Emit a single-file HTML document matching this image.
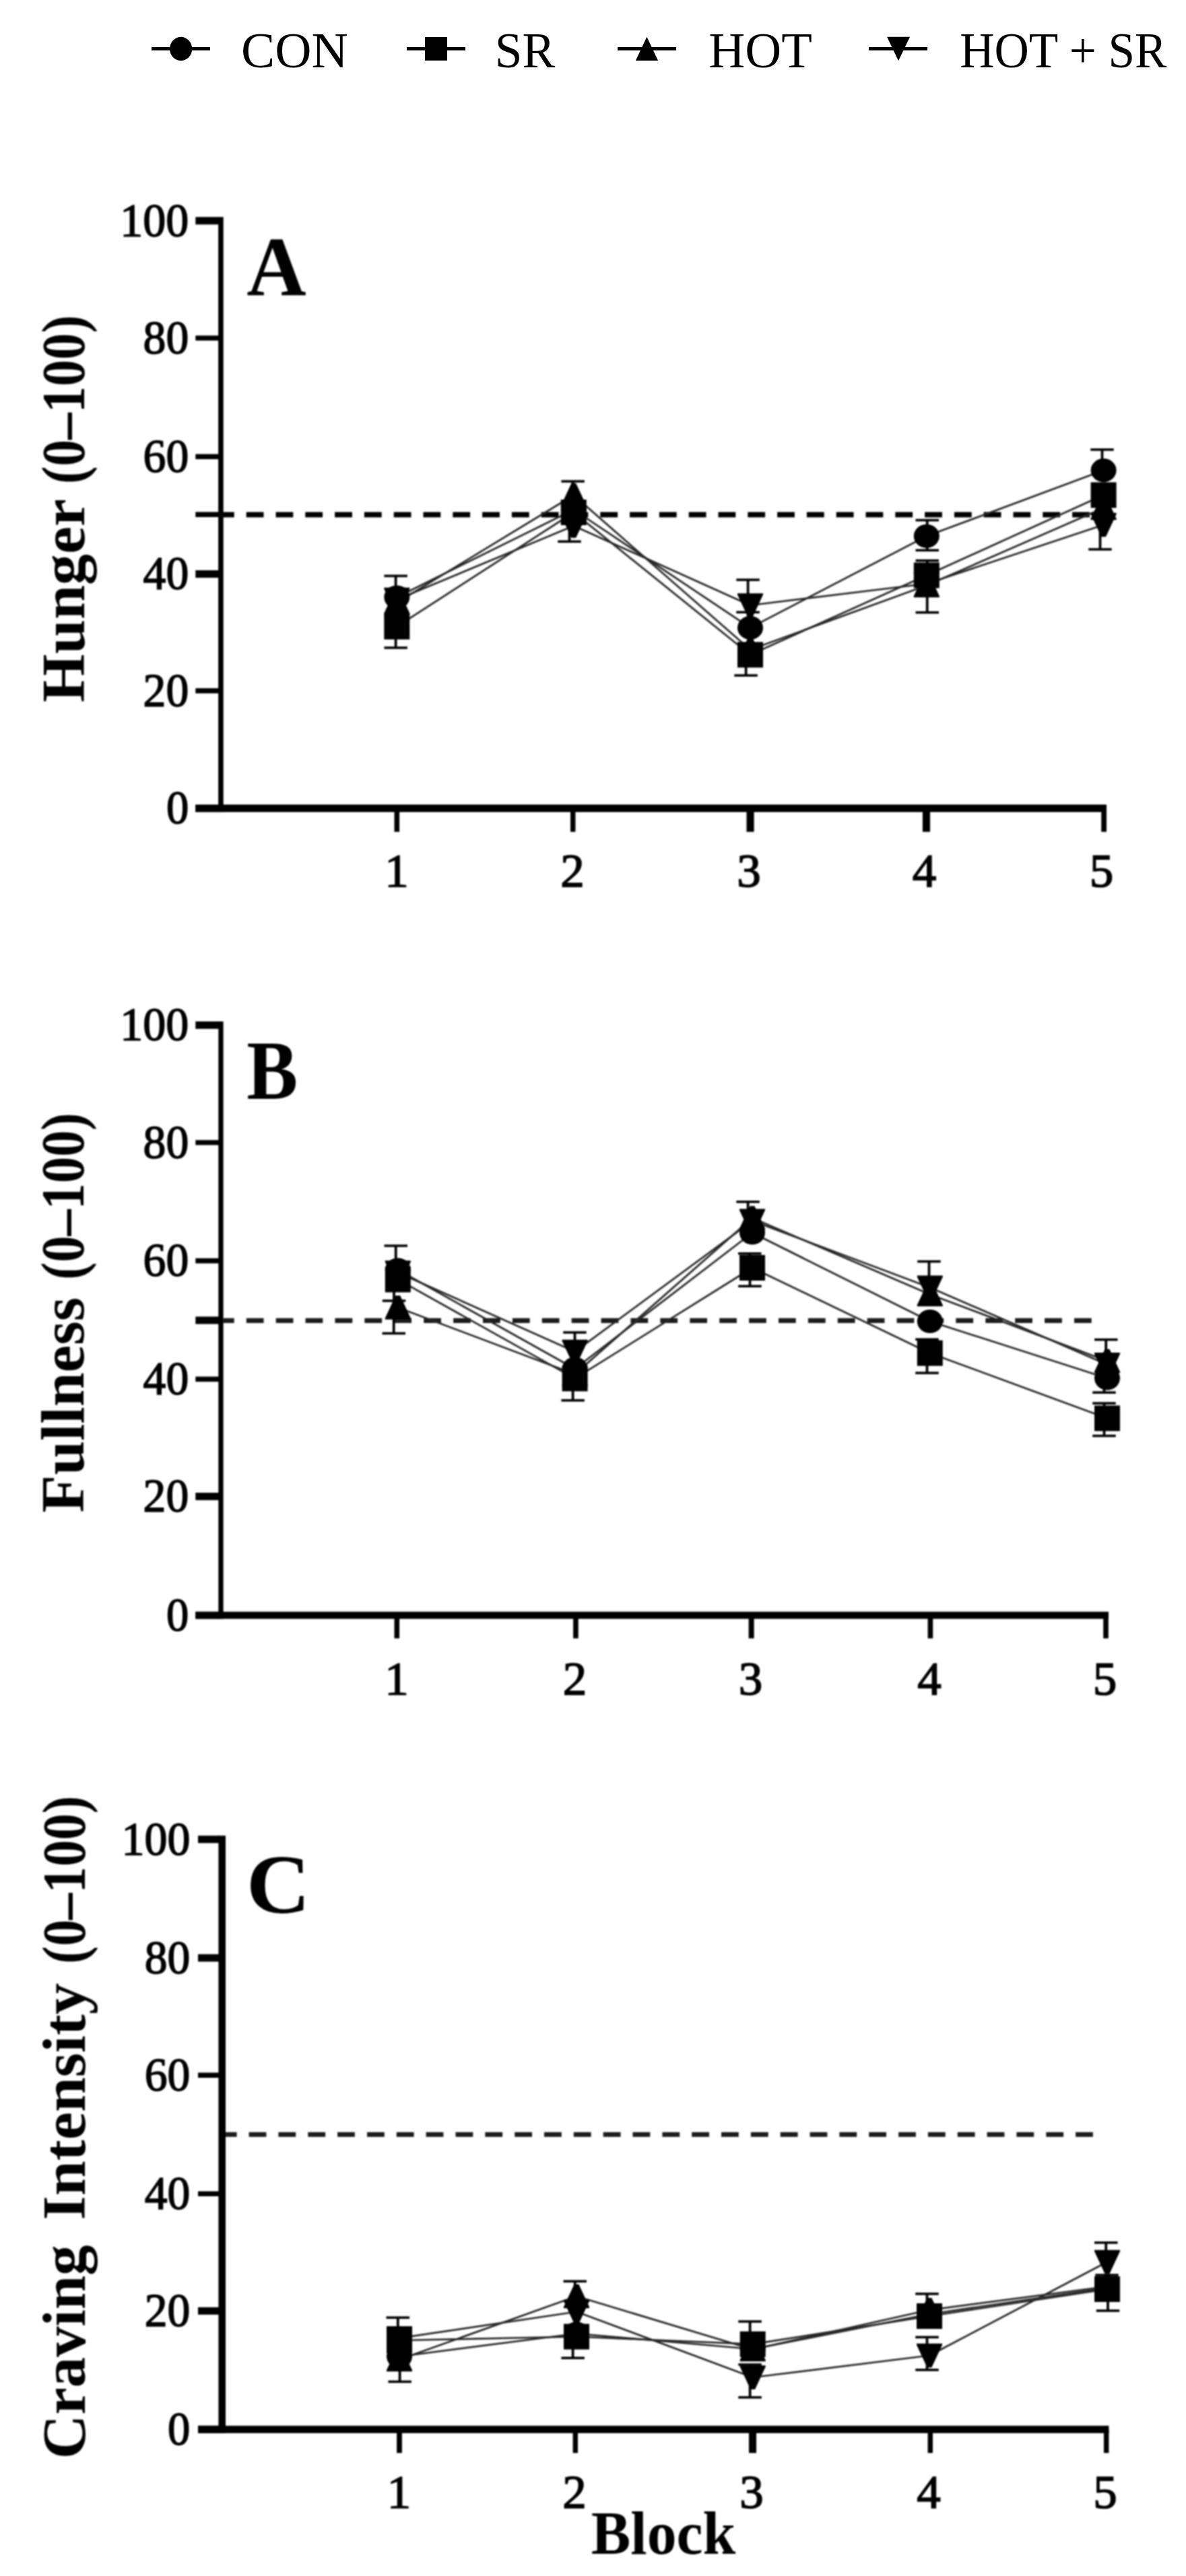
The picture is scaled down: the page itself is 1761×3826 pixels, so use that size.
<!DOCTYPE html>
<html lang="en"><head><meta charset="utf-8"><title>Figure</title>
<style>html,body{margin:0;padding:0;background:#fff}svg{display:block}text{font-family:"Liberation Serif", serif;fill:#000}</style>
</head><body>
<svg width="1761" height="3826" viewBox="0 0 1761 3826">
<defs><filter id="soft" x="0" y="0" width="1761" height="3826" filterUnits="userSpaceOnUse"><feGaussianBlur stdDeviation="0.8"/></filter></defs>
<rect width="1761" height="3826" fill="#fff"/>
<rect x="225.0" y="70.0" width="87.0" height="4.8" fill="#000"/>
<ellipse cx="268.6" cy="72.5" rx="16.6" ry="17.7"/>
<text x="358.0" y="100.4" font-size="73" text-anchor="start" textLength="158.7" lengthAdjust="spacingAndGlyphs">CON</text>
<rect x="604.0" y="70.0" width="87.0" height="4.8" fill="#000"/>
<rect x="631.0" y="55.0" width="33.0" height="34.9" fill="#000"/>
<text x="734.7" y="100.4" font-size="73" text-anchor="start" textLength="89.5" lengthAdjust="spacingAndGlyphs">SR</text>
<rect x="917.0" y="70.0" width="87.0" height="4.8" fill="#000"/>
<polygon points="960.4,54.8 977.1,89.9 943.8,89.9"/>
<text x="1052.3" y="100.4" font-size="73" text-anchor="start" textLength="153.5" lengthAdjust="spacingAndGlyphs">HOT</text>
<rect x="1290.0" y="70.0" width="87.0" height="4.8" fill="#000"/>
<polygon points="1317,54.8 1351.1,54.8 1334,90.2"/>
<text x="1425.2" y="100.4" font-size="73" text-anchor="start" textLength="307.2" lengthAdjust="spacingAndGlyphs">HOT + SR</text>
<g filter="url(#soft)">
<rect x="324.1" y="322.3" width="7.6" height="883.8" fill="#000"/>
<rect x="290.3" y="322.3" width="34.8" height="11.1" fill="#000"/>
<text x="280.2" y="350.7" font-size="69" text-anchor="end" textLength="101.9" lengthAdjust="spacingAndGlyphs" stroke="#000" stroke-width="1.6">100</text>
<rect x="290.3" y="498.4" width="34.8" height="7.4" fill="#000"/>
<text x="280.2" y="524.9" font-size="69" text-anchor="end" textLength="67.6" lengthAdjust="spacingAndGlyphs" stroke="#000" stroke-width="1.6">80</text>
<rect x="290.3" y="674.4" width="34.8" height="7.6" fill="#000"/>
<text x="280.2" y="701.0" font-size="69" text-anchor="end" textLength="67.6" lengthAdjust="spacingAndGlyphs" stroke="#000" stroke-width="1.6">60</text>
<rect x="290.3" y="760.4" width="34.8" height="7.6" fill="#000"/>
<rect x="290.3" y="847.0" width="34.8" height="11.1" fill="#000"/>
<text x="280.2" y="875.3" font-size="69" text-anchor="end" textLength="67.6" lengthAdjust="spacingAndGlyphs" stroke="#000" stroke-width="1.6">40</text>
<rect x="290.3" y="1022.2" width="34.8" height="7.6" fill="#000"/>
<text x="280.2" y="1048.8" font-size="69" text-anchor="end" textLength="67.6" lengthAdjust="spacingAndGlyphs" stroke="#000" stroke-width="1.6">20</text>
<rect x="290.3" y="1195.0" width="34.8" height="11.1" fill="#000"/>
<text x="280.2" y="1223.3" font-size="69" text-anchor="end" textLength="33.3" lengthAdjust="spacingAndGlyphs" stroke="#000" stroke-width="1.6">0</text>
<rect x="290.3" y="1195.0" width="1352.7" height="11.1" fill="#000"/>
<rect x="585.5" y="1200.6" width="7.6" height="34.9" fill="#000"/>
<text x="589.0" y="1317.0" font-size="69" text-anchor="middle" textLength="35.5" lengthAdjust="spacingAndGlyphs" stroke="#000" stroke-width="1.6">1</text>
<rect x="847.0" y="1200.6" width="7.4" height="34.9" fill="#000"/>
<text x="850.0" y="1317.0" font-size="69" text-anchor="middle" textLength="35.5" lengthAdjust="spacingAndGlyphs" stroke="#000" stroke-width="1.6">2</text>
<rect x="1108.5" y="1200.6" width="11.1" height="34.9" fill="#000"/>
<text x="1112.0" y="1317.0" font-size="69" text-anchor="middle" textLength="35.5" lengthAdjust="spacingAndGlyphs" stroke="#000" stroke-width="1.6">3</text>
<rect x="1369.9" y="1200.6" width="11.1" height="34.9" fill="#000"/>
<text x="1372.5" y="1317.0" font-size="69" text-anchor="middle" textLength="35.5" lengthAdjust="spacingAndGlyphs" stroke="#000" stroke-width="1.6">4</text>
<rect x="1635.2" y="1200.6" width="7.8" height="34.9" fill="#000"/>
<text x="1635.6" y="1317.0" font-size="69" text-anchor="middle" textLength="35.5" lengthAdjust="spacingAndGlyphs" stroke="#000" stroke-width="1.6">5</text>
<rect x="331.2" y="760.5" width="16.5" height="7.9" fill="#000"/>
<rect x="365.7" y="760.5" width="25.8" height="7.9" fill="#000"/>
<rect x="409.5" y="760.5" width="25.8" height="7.9" fill="#000"/>
<rect x="453.3" y="760.5" width="25.8" height="7.9" fill="#000"/>
<rect x="497.1" y="760.5" width="25.8" height="7.9" fill="#000"/>
<rect x="540.9" y="760.5" width="25.8" height="7.9" fill="#000"/>
<rect x="584.7" y="760.5" width="25.8" height="7.9" fill="#000"/>
<rect x="628.5" y="760.5" width="25.8" height="7.9" fill="#000"/>
<rect x="672.3" y="760.5" width="25.8" height="7.9" fill="#000"/>
<rect x="716.1" y="760.5" width="25.8" height="7.9" fill="#000"/>
<rect x="759.9" y="760.5" width="25.8" height="7.9" fill="#000"/>
<rect x="803.7" y="760.5" width="25.8" height="7.9" fill="#000"/>
<rect x="847.5" y="760.5" width="25.8" height="7.9" fill="#000"/>
<rect x="891.3" y="760.5" width="25.8" height="7.9" fill="#000"/>
<rect x="935.1" y="760.5" width="25.8" height="7.9" fill="#000"/>
<rect x="978.9" y="760.5" width="25.8" height="7.9" fill="#000"/>
<rect x="1022.7" y="760.5" width="25.8" height="7.9" fill="#000"/>
<rect x="1066.5" y="760.5" width="25.8" height="7.9" fill="#000"/>
<rect x="1110.3" y="760.5" width="25.8" height="7.9" fill="#000"/>
<rect x="1154.1" y="760.5" width="25.8" height="7.9" fill="#000"/>
<rect x="1197.9" y="760.5" width="25.8" height="7.9" fill="#000"/>
<rect x="1241.7" y="760.5" width="25.8" height="7.9" fill="#000"/>
<rect x="1285.5" y="760.5" width="25.8" height="7.9" fill="#000"/>
<rect x="1329.3" y="760.5" width="25.8" height="7.9" fill="#000"/>
<rect x="1373.1" y="760.5" width="25.8" height="7.9" fill="#000"/>
<rect x="1416.9" y="760.5" width="25.8" height="7.9" fill="#000"/>
<rect x="1460.7" y="760.5" width="25.8" height="7.9" fill="#000"/>
<rect x="1504.5" y="760.5" width="25.8" height="7.9" fill="#000"/>
<rect x="1548.3" y="760.5" width="25.8" height="7.9" fill="#000"/>
<rect x="1592.1" y="760.5" width="25.8" height="7.9" fill="#000"/>
<text transform="translate(125.2,1042.9) rotate(-90)" font-size="90" font-weight="bold" textLength="301.8" lengthAdjust="spacingAndGlyphs">Hunger</text>
<text transform="translate(125.2,718.8) rotate(-90)" font-size="90" font-weight="bold" textLength="250.6" lengthAdjust="spacingAndGlyphs">(0–100)</text>
<text x="366.2" y="437.5" font-size="124" font-weight="bold" text-anchor="start" textLength="88.5" lengthAdjust="spacingAndGlyphs">A</text>
<polyline points="589.3,887.0 851.8,757.0 1114.0,932.4 1375.8,796.3 1638.6,698.6" stroke="#262626" stroke-width="2.7" fill="none" stroke-linejoin="round"/>
<polyline points="589.3,930.7 851.8,761.0 1114.0,972.5 1375.8,854.5 1638.6,735.3" stroke="#262626" stroke-width="2.7" fill="none" stroke-linejoin="round"/>
<polyline points="589.3,895.0 851.8,735.5 1114.0,965.0 1375.8,869.5 1638.6,754.5" stroke="#262626" stroke-width="2.7" fill="none" stroke-linejoin="round"/>
<polyline points="589.3,890.5 851.8,781.0 1114.0,899.0 1375.8,867.0 1638.6,779.5" stroke="#262626" stroke-width="2.7" fill="none" stroke-linejoin="round"/>
<rect x="585.7" y="855.4" width="3.8" height="31.6" fill="#000"/>
<rect x="570.4" y="853.6" width="34.5" height="3.6" fill="#000"/>
<rect x="585.7" y="930.7" width="3.8" height="31.4" fill="#000"/>
<rect x="570.4" y="960.3" width="34.5" height="3.6" fill="#000"/>
<rect x="848.7" y="714.9" width="3.8" height="20.6" fill="#000"/>
<rect x="833.4" y="713.1" width="34.5" height="3.6" fill="#000"/>
<rect x="843.6" y="781.0" width="3.8" height="23.3" fill="#000"/>
<rect x="828.2" y="802.5" width="34.5" height="3.6" fill="#000"/>
<rect x="1108.7" y="861.2" width="3.8" height="37.8" fill="#000"/>
<rect x="1093.3" y="859.4" width="34.5" height="3.6" fill="#000"/>
<rect x="1108.7" y="909.3" width="3.8" height="23.1" fill="#000"/>
<rect x="1093.3" y="907.5" width="34.5" height="3.6" fill="#000"/>
<rect x="1105.7" y="972.5" width="3.8" height="30.7" fill="#000"/>
<rect x="1090.3" y="1001.4" width="34.5" height="3.6" fill="#000"/>
<rect x="1374.8" y="772.6" width="3.8" height="23.7" fill="#000"/>
<rect x="1359.5" y="770.8" width="34.5" height="3.6" fill="#000"/>
<rect x="1374.8" y="796.3" width="3.8" height="21.0" fill="#000"/>
<rect x="1359.5" y="815.5" width="34.5" height="3.6" fill="#000"/>
<rect x="1374.8" y="832.6" width="3.8" height="21.9" fill="#000"/>
<rect x="1359.5" y="830.8" width="34.5" height="3.6" fill="#000"/>
<rect x="1374.8" y="869.5" width="3.8" height="40.2" fill="#000"/>
<rect x="1359.5" y="907.9" width="34.5" height="3.6" fill="#000"/>
<rect x="1634.6" y="667.8" width="3.8" height="30.8" fill="#000"/>
<rect x="1619.2" y="666.0" width="34.5" height="3.6" fill="#000"/>
<rect x="1631.6" y="779.5" width="3.8" height="36.4" fill="#000"/>
<rect x="1616.2" y="814.1" width="34.5" height="3.6" fill="#000"/>
<ellipse cx="589.3" cy="887.0" rx="19.0" ry="17.6"/>
<ellipse cx="851.8" cy="757.0" rx="19.0" ry="17.6"/>
<ellipse cx="1114.0" cy="932.4" rx="19.0" ry="17.6"/>
<ellipse cx="1375.8" cy="796.3" rx="19.0" ry="17.6"/>
<ellipse cx="1638.6" cy="698.6" rx="19.0" ry="17.6"/>
<rect x="570.3" y="911.7" width="38.0" height="38.0" fill="#000"/>
<rect x="832.8" y="742.0" width="38.0" height="38.0" fill="#000"/>
<rect x="1095.0" y="953.5" width="38.0" height="38.0" fill="#000"/>
<rect x="1356.8" y="835.5" width="38.0" height="38.0" fill="#000"/>
<rect x="1619.6" y="716.3" width="38.0" height="38.0" fill="#000"/>
<polygon points="585.9,877.2 592.7,877.2 608.3,910.8 608.3,912.8 570.3,912.8 570.3,910.8"/>
<polygon points="848.4,717.8 855.2,717.8 870.8,751.2 870.8,753.2 832.8,753.2 832.8,751.2"/>
<polygon points="1110.6,947.2 1117.4,947.2 1133.0,980.8 1133.0,982.8 1095.0,982.8 1095.0,980.8"/>
<polygon points="1372.4,851.8 1379.2,851.8 1394.8,885.2 1394.8,887.2 1356.8,887.2 1356.8,885.2"/>
<polygon points="1635.2,736.8 1642.0,736.8 1657.6,770.2 1657.6,772.2 1619.6,772.2 1619.6,770.2"/>
<polygon points="570.3,872.8 608.3,872.8 608.3,874.8 592.7,908.2 585.9,908.2 570.3,874.8"/>
<polygon points="832.8,763.2 870.8,763.2 870.8,765.2 855.2,798.8 848.4,798.8 832.8,765.2"/>
<polygon points="1095.0,881.2 1133.0,881.2 1133.0,883.2 1117.4,916.8 1110.6,916.8 1095.0,883.2"/>
<polygon points="1356.8,849.2 1394.8,849.2 1394.8,851.2 1379.2,884.8 1372.4,884.8 1356.8,851.2"/>
<polygon points="1619.6,761.8 1657.6,761.8 1657.6,763.8 1642.0,797.2 1635.2,797.2 1619.6,763.8"/>
<rect x="324.3" y="1517.1" width="7.3" height="887.3" fill="#000"/>
<rect x="290.3" y="1517.1" width="35.0" height="11.0" fill="#000"/>
<text x="280.2" y="1545.4" font-size="69" text-anchor="end" textLength="101.9" lengthAdjust="spacingAndGlyphs" stroke="#000" stroke-width="1.6">100</text>
<rect x="290.3" y="1693.3" width="35.0" height="7.4" fill="#000"/>
<text x="280.2" y="1719.8" font-size="69" text-anchor="end" textLength="67.6" lengthAdjust="spacingAndGlyphs" stroke="#000" stroke-width="1.6">80</text>
<rect x="290.3" y="1868.8" width="35.0" height="7.6" fill="#000"/>
<text x="280.2" y="1895.4" font-size="69" text-anchor="end" textLength="67.6" lengthAdjust="spacingAndGlyphs" stroke="#000" stroke-width="1.6">60</text>
<rect x="290.3" y="1955.5" width="35.0" height="11.0" fill="#000"/>
<rect x="290.3" y="2044.6" width="35.0" height="7.6" fill="#000"/>
<text x="280.2" y="2071.2" font-size="69" text-anchor="end" textLength="67.6" lengthAdjust="spacingAndGlyphs" stroke="#000" stroke-width="1.6">40</text>
<rect x="290.3" y="2217.1" width="35.0" height="11.0" fill="#000"/>
<text x="280.2" y="2245.4" font-size="69" text-anchor="end" textLength="67.6" lengthAdjust="spacingAndGlyphs" stroke="#000" stroke-width="1.6">20</text>
<rect x="290.3" y="2393.8" width="35.0" height="10.6" fill="#000"/>
<text x="280.2" y="2421.9" font-size="69" text-anchor="end" textLength="33.3" lengthAdjust="spacingAndGlyphs" stroke="#000" stroke-width="1.6">0</text>
<rect x="290.3" y="2393.8" width="1355.7" height="10.6" fill="#000"/>
<rect x="585.5" y="2399.1" width="7.6" height="34.3" fill="#000"/>
<text x="589.0" y="2516.5" font-size="69" text-anchor="middle" textLength="35.5" lengthAdjust="spacingAndGlyphs" stroke="#000" stroke-width="1.6">1</text>
<rect x="851.1" y="2399.1" width="7.6" height="34.3" fill="#000"/>
<text x="853.5" y="2516.5" font-size="69" text-anchor="middle" textLength="35.5" lengthAdjust="spacingAndGlyphs" stroke="#000" stroke-width="1.6">2</text>
<rect x="1111.6" y="2399.1" width="8.0" height="34.3" fill="#000"/>
<text x="1114.5" y="2516.5" font-size="69" text-anchor="middle" textLength="35.5" lengthAdjust="spacingAndGlyphs" stroke="#000" stroke-width="1.6">3</text>
<rect x="1377.6" y="2399.1" width="7.6" height="34.3" fill="#000"/>
<text x="1380.0" y="2516.5" font-size="69" text-anchor="middle" textLength="35.5" lengthAdjust="spacingAndGlyphs" stroke="#000" stroke-width="1.6">4</text>
<rect x="1638.2" y="2399.1" width="7.6" height="34.3" fill="#000"/>
<text x="1640.5" y="2516.5" font-size="69" text-anchor="middle" textLength="35.5" lengthAdjust="spacingAndGlyphs" stroke="#000" stroke-width="1.6">5</text>
<rect x="331.1" y="1957.8" width="16.5" height="7.2" fill="#1a1a1a"/>
<rect x="365.8" y="1957.8" width="25.7" height="7.2" fill="#1a1a1a"/>
<rect x="409.7" y="1957.8" width="25.7" height="7.2" fill="#1a1a1a"/>
<rect x="453.6" y="1957.8" width="25.7" height="7.2" fill="#1a1a1a"/>
<rect x="497.5" y="1957.8" width="25.7" height="7.2" fill="#1a1a1a"/>
<rect x="541.4" y="1957.8" width="25.7" height="7.2" fill="#1a1a1a"/>
<rect x="585.3" y="1957.8" width="25.7" height="7.2" fill="#1a1a1a"/>
<rect x="629.2" y="1957.8" width="25.7" height="7.2" fill="#1a1a1a"/>
<rect x="673.1" y="1957.8" width="25.7" height="7.2" fill="#1a1a1a"/>
<rect x="717.0" y="1957.8" width="25.7" height="7.2" fill="#1a1a1a"/>
<rect x="760.9" y="1957.8" width="25.7" height="7.2" fill="#1a1a1a"/>
<rect x="804.8" y="1957.8" width="25.7" height="7.2" fill="#1a1a1a"/>
<rect x="848.7" y="1957.8" width="25.7" height="7.2" fill="#1a1a1a"/>
<rect x="892.6" y="1957.8" width="25.7" height="7.2" fill="#1a1a1a"/>
<rect x="936.5" y="1957.8" width="25.7" height="7.2" fill="#1a1a1a"/>
<rect x="980.4" y="1957.8" width="25.7" height="7.2" fill="#1a1a1a"/>
<rect x="1024.3" y="1957.8" width="25.7" height="7.2" fill="#1a1a1a"/>
<rect x="1068.2" y="1957.8" width="25.7" height="7.2" fill="#1a1a1a"/>
<rect x="1112.1" y="1957.8" width="25.7" height="7.2" fill="#1a1a1a"/>
<rect x="1156.0" y="1957.8" width="25.7" height="7.2" fill="#1a1a1a"/>
<rect x="1199.9" y="1957.8" width="25.7" height="7.2" fill="#1a1a1a"/>
<rect x="1243.8" y="1957.8" width="25.7" height="7.2" fill="#1a1a1a"/>
<rect x="1287.7" y="1957.8" width="25.7" height="7.2" fill="#1a1a1a"/>
<rect x="1331.6" y="1957.8" width="25.7" height="7.2" fill="#1a1a1a"/>
<rect x="1375.5" y="1957.8" width="25.7" height="7.2" fill="#1a1a1a"/>
<rect x="1419.4" y="1957.8" width="25.7" height="7.2" fill="#1a1a1a"/>
<rect x="1463.3" y="1957.8" width="25.7" height="7.2" fill="#1a1a1a"/>
<rect x="1507.2" y="1957.8" width="25.7" height="7.2" fill="#1a1a1a"/>
<rect x="1551.1" y="1957.8" width="25.7" height="7.2" fill="#1a1a1a"/>
<rect x="1595.0" y="1957.8" width="25.7" height="7.2" fill="#1a1a1a"/>
<text transform="translate(123.8,2246.7) rotate(-90)" font-size="90" font-weight="bold" textLength="320.0" lengthAdjust="spacingAndGlyphs">Fullness</text>
<text transform="translate(123.8,1900.8) rotate(-90)" font-size="90" font-weight="bold" textLength="248.0" lengthAdjust="spacingAndGlyphs">(0–100)</text>
<text x="366.3" y="1632.0" font-size="124" font-weight="bold" text-anchor="start" textLength="76.0" lengthAdjust="spacingAndGlyphs">B</text>
<polyline points="590.8,1886.0 853.6,2033.0 1117.0,1831.0 1380.8,1962.5 1644.0,2047.0" stroke="#262626" stroke-width="2.7" fill="none" stroke-linejoin="round"/>
<polyline points="590.8,1900.4 853.6,2047.4 1117.0,1883.0 1380.8,2009.7 1644.0,2106.5" stroke="#262626" stroke-width="2.7" fill="none" stroke-linejoin="round"/>
<polyline points="590.8,1942.0 853.6,2041.0 1117.0,1809.0 1380.8,1922.5 1644.0,2021.5" stroke="#262626" stroke-width="2.7" fill="none" stroke-linejoin="round"/>
<polyline points="590.8,1890.0 853.6,2007.6 1117.0,1813.3 1380.8,1912.2 1644.0,2026.8" stroke="#262626" stroke-width="2.7" fill="none" stroke-linejoin="round"/>
<rect x="585.8" y="1850.3" width="3.8" height="35.7" fill="#000"/>
<rect x="570.5" y="1848.5" width="34.5" height="3.6" fill="#000"/>
<rect x="583.1" y="1900.0" width="3.8" height="32.0" fill="#000"/>
<rect x="567.8" y="1930.2" width="34.5" height="3.6" fill="#000"/>
<rect x="582.8" y="1942.0" width="3.8" height="38.4" fill="#000"/>
<rect x="567.5" y="1978.6" width="34.5" height="3.6" fill="#000"/>
<rect x="851.6" y="1979.0" width="3.8" height="28.6" fill="#000"/>
<rect x="836.2" y="1977.2" width="34.5" height="3.6" fill="#000"/>
<rect x="848.7" y="2047.4" width="3.8" height="32.5" fill="#000"/>
<rect x="833.4" y="2078.1" width="34.5" height="3.6" fill="#000"/>
<rect x="1108.7" y="1785.0" width="3.8" height="28.0" fill="#000"/>
<rect x="1093.3" y="1783.2" width="34.5" height="3.6" fill="#000"/>
<rect x="1111.4" y="1861.8" width="3.8" height="21.2" fill="#000"/>
<rect x="1096.0" y="1860.0" width="34.5" height="3.6" fill="#000"/>
<rect x="1111.6" y="1883.0" width="3.8" height="27.3" fill="#000"/>
<rect x="1096.2" y="1908.5" width="34.5" height="3.6" fill="#000"/>
<rect x="1377.6" y="1873.6" width="3.8" height="38.6" fill="#000"/>
<rect x="1362.2" y="1871.8" width="34.5" height="3.6" fill="#000"/>
<rect x="1374.6" y="1989.3" width="3.8" height="20.4" fill="#000"/>
<rect x="1359.2" y="1987.5" width="34.5" height="3.6" fill="#000"/>
<rect x="1374.6" y="2009.7" width="3.8" height="29.5" fill="#000"/>
<rect x="1359.2" y="2037.4" width="34.5" height="3.6" fill="#000"/>
<rect x="1640.3" y="1989.7" width="3.8" height="37.1" fill="#000"/>
<rect x="1625.0" y="1987.9" width="34.5" height="3.6" fill="#000"/>
<rect x="1637.6" y="2047.0" width="3.8" height="21.2" fill="#000"/>
<rect x="1622.2" y="2066.4" width="34.5" height="3.6" fill="#000"/>
<rect x="1637.6" y="2084.2" width="3.8" height="22.3" fill="#000"/>
<rect x="1622.2" y="2082.4" width="34.5" height="3.6" fill="#000"/>
<rect x="1637.6" y="2106.5" width="3.8" height="26.1" fill="#000"/>
<rect x="1622.2" y="2130.8" width="34.5" height="3.6" fill="#000"/>
<ellipse cx="590.8" cy="1886.0" rx="19.0" ry="17.6"/>
<ellipse cx="853.6" cy="2033.0" rx="19.0" ry="17.6"/>
<ellipse cx="1117.0" cy="1831.0" rx="19.0" ry="17.6"/>
<ellipse cx="1380.8" cy="1962.5" rx="19.0" ry="17.6"/>
<ellipse cx="1644.0" cy="2047.0" rx="19.0" ry="17.6"/>
<rect x="571.8" y="1881.4" width="38.0" height="38.0" fill="#000"/>
<rect x="834.6" y="2028.4" width="38.0" height="38.0" fill="#000"/>
<rect x="1098.0" y="1864.0" width="38.0" height="38.0" fill="#000"/>
<rect x="1361.8" y="1990.7" width="38.0" height="38.0" fill="#000"/>
<rect x="1625.0" y="2087.5" width="38.0" height="38.0" fill="#000"/>
<polygon points="587.4,1924.2 594.2,1924.2 609.8,1957.8 609.8,1959.8 571.8,1959.8 571.8,1957.8"/>
<polygon points="850.2,2023.2 857.0,2023.2 872.6,2056.8 872.6,2058.8 834.6,2058.8 834.6,2056.8"/>
<polygon points="1113.6,1791.2 1120.4,1791.2 1136.0,1824.8 1136.0,1826.8 1098.0,1826.8 1098.0,1824.8"/>
<polygon points="1377.4,1904.8 1384.2,1904.8 1399.8,1938.2 1399.8,1940.2 1361.8,1940.2 1361.8,1938.2"/>
<polygon points="1640.6,2003.8 1647.4,2003.8 1663.0,2037.2 1663.0,2039.2 1625.0,2039.2 1625.0,2037.2"/>
<polygon points="571.8,1872.2 609.8,1872.2 609.8,1874.2 594.2,1907.8 587.4,1907.8 571.8,1874.2"/>
<polygon points="834.6,1989.8 872.6,1989.8 872.6,1991.8 857.0,2025.3 850.2,2025.3 834.6,1991.8"/>
<polygon points="1098.0,1795.5 1136.0,1795.5 1136.0,1797.5 1120.4,1831.0 1113.6,1831.0 1098.0,1797.5"/>
<polygon points="1361.8,1894.5 1399.8,1894.5 1399.8,1896.5 1384.2,1930.0 1377.4,1930.0 1361.8,1896.5"/>
<polygon points="1625.0,2009.0 1663.0,2009.0 1663.0,2011.0 1647.4,2044.5 1640.6,2044.5 1625.0,2011.0"/>
<rect x="324.4" y="2726.4" width="10.6" height="887.4" fill="#000"/>
<rect x="294.0" y="2726.4" width="31.4" height="11.0" fill="#000"/>
<text x="282.4" y="2754.7" font-size="69" text-anchor="end" textLength="101.9" lengthAdjust="spacingAndGlyphs" stroke="#000" stroke-width="1.6">100</text>
<rect x="294.0" y="2902.5" width="31.4" height="11.0" fill="#000"/>
<text x="282.4" y="2930.8" font-size="69" text-anchor="end" textLength="67.6" lengthAdjust="spacingAndGlyphs" stroke="#000" stroke-width="1.6">80</text>
<rect x="294.0" y="3078.4" width="31.4" height="7.6" fill="#000"/>
<text x="282.4" y="3105.0" font-size="69" text-anchor="end" textLength="67.6" lengthAdjust="spacingAndGlyphs" stroke="#000" stroke-width="1.6">60</text>
<rect x="294.0" y="3254.6" width="31.4" height="7.4" fill="#000"/>
<text x="282.4" y="3281.1" font-size="69" text-anchor="end" textLength="67.6" lengthAdjust="spacingAndGlyphs" stroke="#000" stroke-width="1.6">40</text>
<rect x="294.0" y="3426.8" width="31.4" height="11.0" fill="#000"/>
<text x="282.4" y="3455.1" font-size="69" text-anchor="end" textLength="67.6" lengthAdjust="spacingAndGlyphs" stroke="#000" stroke-width="1.6">20</text>
<rect x="294.0" y="3602.8" width="31.4" height="11.0" fill="#000"/>
<text x="282.4" y="3631.1" font-size="69" text-anchor="end" textLength="33.3" lengthAdjust="spacingAndGlyphs" stroke="#000" stroke-width="1.6">0</text>
<rect x="294.0" y="3602.8" width="1352.4" height="11.0" fill="#000"/>
<rect x="589.1" y="3608.3" width="7.8" height="35.0" fill="#000"/>
<text x="592.5" y="3724.5" font-size="69" text-anchor="middle" textLength="35.5" lengthAdjust="spacingAndGlyphs" stroke="#000" stroke-width="1.6">1</text>
<rect x="850.6" y="3608.3" width="7.4" height="35.0" fill="#000"/>
<text x="853.0" y="3724.5" font-size="69" text-anchor="middle" textLength="35.5" lengthAdjust="spacingAndGlyphs" stroke="#000" stroke-width="1.6">2</text>
<rect x="1112.0" y="3608.3" width="11.0" height="35.0" fill="#000"/>
<text x="1116.0" y="3724.5" font-size="69" text-anchor="middle" textLength="35.5" lengthAdjust="spacingAndGlyphs" stroke="#000" stroke-width="1.6">3</text>
<rect x="1377.6" y="3608.3" width="7.4" height="35.0" fill="#000"/>
<text x="1379.0" y="3724.5" font-size="69" text-anchor="middle" textLength="35.5" lengthAdjust="spacingAndGlyphs" stroke="#000" stroke-width="1.6">4</text>
<rect x="1639.0" y="3608.3" width="7.4" height="35.0" fill="#000"/>
<text x="1641.0" y="3724.5" font-size="69" text-anchor="middle" textLength="35.5" lengthAdjust="spacingAndGlyphs" stroke="#000" stroke-width="1.6">5</text>
<rect x="334.5" y="3166.8" width="17.1" height="7.0" fill="#1c1c1c"/>
<rect x="369.6" y="3166.8" width="25.8" height="7.0" fill="#1c1c1c"/>
<rect x="413.4" y="3166.8" width="25.8" height="7.0" fill="#1c1c1c"/>
<rect x="457.3" y="3166.8" width="25.8" height="7.0" fill="#1c1c1c"/>
<rect x="501.1" y="3166.8" width="25.8" height="7.0" fill="#1c1c1c"/>
<rect x="545.0" y="3166.8" width="25.8" height="7.0" fill="#1c1c1c"/>
<rect x="588.8" y="3166.8" width="25.8" height="7.0" fill="#1c1c1c"/>
<rect x="632.6" y="3166.8" width="25.8" height="7.0" fill="#1c1c1c"/>
<rect x="676.5" y="3166.8" width="25.8" height="7.0" fill="#1c1c1c"/>
<rect x="720.3" y="3166.8" width="25.8" height="7.0" fill="#1c1c1c"/>
<rect x="764.2" y="3166.8" width="25.8" height="7.0" fill="#1c1c1c"/>
<rect x="808.0" y="3166.8" width="25.8" height="7.0" fill="#1c1c1c"/>
<rect x="851.8" y="3166.8" width="25.8" height="7.0" fill="#1c1c1c"/>
<rect x="895.7" y="3166.8" width="25.8" height="7.0" fill="#1c1c1c"/>
<rect x="939.5" y="3166.8" width="25.8" height="7.0" fill="#1c1c1c"/>
<rect x="983.4" y="3166.8" width="25.8" height="7.0" fill="#1c1c1c"/>
<rect x="1027.2" y="3166.8" width="25.8" height="7.0" fill="#1c1c1c"/>
<rect x="1071.0" y="3166.8" width="25.8" height="7.0" fill="#1c1c1c"/>
<rect x="1114.9" y="3166.8" width="25.8" height="7.0" fill="#1c1c1c"/>
<rect x="1158.7" y="3166.8" width="25.8" height="7.0" fill="#1c1c1c"/>
<rect x="1202.6" y="3166.8" width="25.8" height="7.0" fill="#1c1c1c"/>
<rect x="1246.4" y="3166.8" width="25.8" height="7.0" fill="#1c1c1c"/>
<rect x="1290.2" y="3166.8" width="25.8" height="7.0" fill="#1c1c1c"/>
<rect x="1334.1" y="3166.8" width="25.8" height="7.0" fill="#1c1c1c"/>
<rect x="1377.9" y="3166.8" width="25.8" height="7.0" fill="#1c1c1c"/>
<rect x="1421.8" y="3166.8" width="25.8" height="7.0" fill="#1c1c1c"/>
<rect x="1465.6" y="3166.8" width="25.8" height="7.0" fill="#1c1c1c"/>
<rect x="1509.4" y="3166.8" width="25.8" height="7.0" fill="#1c1c1c"/>
<rect x="1553.3" y="3166.8" width="25.8" height="7.0" fill="#1c1c1c"/>
<rect x="1597.1" y="3166.8" width="25.8" height="7.0" fill="#1c1c1c"/>
<text transform="translate(125.5,3652.2) rotate(-90)" font-size="90" font-weight="bold" textLength="318.0" lengthAdjust="spacingAndGlyphs">Craving</text>
<text transform="translate(125.5,3297.4) rotate(-90)" font-size="90" font-weight="bold" textLength="352.0" lengthAdjust="spacingAndGlyphs">Intensity</text>
<text transform="translate(125.5,2916.8) rotate(-90)" font-size="90" font-weight="bold" textLength="249.6" lengthAdjust="spacingAndGlyphs">(0–100)</text>
<text x="365.8" y="2840.5" font-size="124" font-weight="bold" text-anchor="start" textLength="95.0" lengthAdjust="spacingAndGlyphs">C</text>
<polyline points="593.0,3500.0 856.0,3466.0 1117.7,3489.0 1380.0,3437.0 1644.0,3398.0" stroke="#262626" stroke-width="2.7" fill="none" stroke-linejoin="round"/>
<polyline points="593.0,3476.0 856.0,3470.5 1117.7,3481.7 1380.0,3440.0 1644.0,3400.0" stroke="#262626" stroke-width="2.7" fill="none" stroke-linejoin="round"/>
<polyline points="593.0,3504.6 856.0,3410.5 1117.7,3489.5 1380.0,3430.8 1644.0,3396.0" stroke="#262626" stroke-width="2.7" fill="none" stroke-linejoin="round"/>
<polyline points="593.0,3472.7 856.0,3433.5 1117.7,3531.0 1380.0,3498.5 1644.0,3359.5" stroke="#262626" stroke-width="2.7" fill="none" stroke-linejoin="round"/>
<rect x="588.9" y="3442.2" width="3.8" height="33.8" fill="#000"/>
<rect x="573.5" y="3440.4" width="34.5" height="3.6" fill="#000"/>
<rect x="591.7" y="3504.6" width="3.8" height="32.8" fill="#000"/>
<rect x="576.4" y="3535.6" width="34.5" height="3.6" fill="#000"/>
<rect x="851.8" y="3388.3" width="3.8" height="22.2" fill="#000"/>
<rect x="836.5" y="3386.5" width="34.5" height="3.6" fill="#000"/>
<rect x="848.7" y="3470.5" width="3.8" height="31.7" fill="#000"/>
<rect x="833.4" y="3500.4" width="34.5" height="3.6" fill="#000"/>
<rect x="1111.7" y="3448.0" width="3.8" height="33.7" fill="#000"/>
<rect x="1096.3" y="3446.2" width="34.5" height="3.6" fill="#000"/>
<rect x="1111.7" y="3512.0" width="3.8" height="19.0" fill="#000"/>
<rect x="1096.3" y="3510.2" width="34.5" height="3.6" fill="#000"/>
<rect x="1111.7" y="3531.0" width="3.8" height="29.7" fill="#000"/>
<rect x="1096.3" y="3558.9" width="34.5" height="3.6" fill="#000"/>
<rect x="1374.6" y="3406.9" width="3.8" height="23.9" fill="#000"/>
<rect x="1359.2" y="3405.1" width="34.5" height="3.6" fill="#000"/>
<rect x="1374.6" y="3471.3" width="3.8" height="27.2" fill="#000"/>
<rect x="1359.2" y="3469.5" width="34.5" height="3.6" fill="#000"/>
<rect x="1374.6" y="3498.5" width="3.8" height="21.4" fill="#000"/>
<rect x="1359.2" y="3518.1" width="34.5" height="3.6" fill="#000"/>
<rect x="1640.3" y="3330.9" width="3.8" height="28.6" fill="#000"/>
<rect x="1625.0" y="3329.1" width="34.5" height="3.6" fill="#000"/>
<rect x="1641.6" y="3379.0" width="3.8" height="21.0" fill="#000"/>
<rect x="1626.2" y="3377.2" width="34.5" height="3.6" fill="#000"/>
<rect x="1643.1" y="3400.0" width="3.8" height="32.0" fill="#000"/>
<rect x="1627.8" y="3430.2" width="34.5" height="3.6" fill="#000"/>
<ellipse cx="593.0" cy="3500.0" rx="19.0" ry="17.6"/>
<ellipse cx="856.0" cy="3466.0" rx="19.0" ry="17.6"/>
<ellipse cx="1117.7" cy="3489.0" rx="19.0" ry="17.6"/>
<ellipse cx="1380.0" cy="3437.0" rx="19.0" ry="17.6"/>
<ellipse cx="1644.0" cy="3398.0" rx="19.0" ry="17.6"/>
<rect x="574.0" y="3457.0" width="38.0" height="38.0" fill="#000"/>
<rect x="837.0" y="3451.5" width="38.0" height="38.0" fill="#000"/>
<rect x="1098.7" y="3462.7" width="38.0" height="38.0" fill="#000"/>
<rect x="1361.0" y="3421.0" width="38.0" height="38.0" fill="#000"/>
<rect x="1625.0" y="3381.0" width="38.0" height="38.0" fill="#000"/>
<polygon points="589.6,3486.8 596.4,3486.8 612.0,3520.3 612.0,3522.3 574.0,3522.3 574.0,3520.3"/>
<polygon points="852.6,3392.8 859.4,3392.8 875.0,3426.2 875.0,3428.2 837.0,3428.2 837.0,3426.2"/>
<polygon points="1114.3,3471.8 1121.1,3471.8 1136.7,3505.2 1136.7,3507.2 1098.7,3507.2 1098.7,3505.2"/>
<polygon points="1376.6,3413.1 1383.4,3413.1 1399.0,3446.6 1399.0,3448.6 1361.0,3448.6 1361.0,3446.6"/>
<polygon points="1640.6,3378.2 1647.4,3378.2 1663.0,3411.8 1663.0,3413.8 1625.0,3413.8 1625.0,3411.8"/>
<polygon points="574.0,3454.9 612.0,3454.9 612.0,3456.9 596.4,3490.4 589.6,3490.4 574.0,3456.9"/>
<polygon points="837.0,3415.8 875.0,3415.8 875.0,3417.8 859.4,3451.2 852.6,3451.2 837.0,3417.8"/>
<polygon points="1098.7,3513.2 1136.7,3513.2 1136.7,3515.2 1121.1,3548.8 1114.3,3548.8 1098.7,3515.2"/>
<polygon points="1361.0,3480.8 1399.0,3480.8 1399.0,3482.8 1383.4,3516.2 1376.6,3516.2 1361.0,3482.8"/>
<polygon points="1625.0,3341.8 1663.0,3341.8 1663.0,3343.8 1647.4,3377.2 1640.6,3377.2 1625.0,3343.8"/>
<text x="877.8" y="3792.6" font-size="90" font-weight="bold" text-anchor="start" textLength="214.5" lengthAdjust="spacingAndGlyphs">Block</text>
</g>
</svg>
</body></html>
